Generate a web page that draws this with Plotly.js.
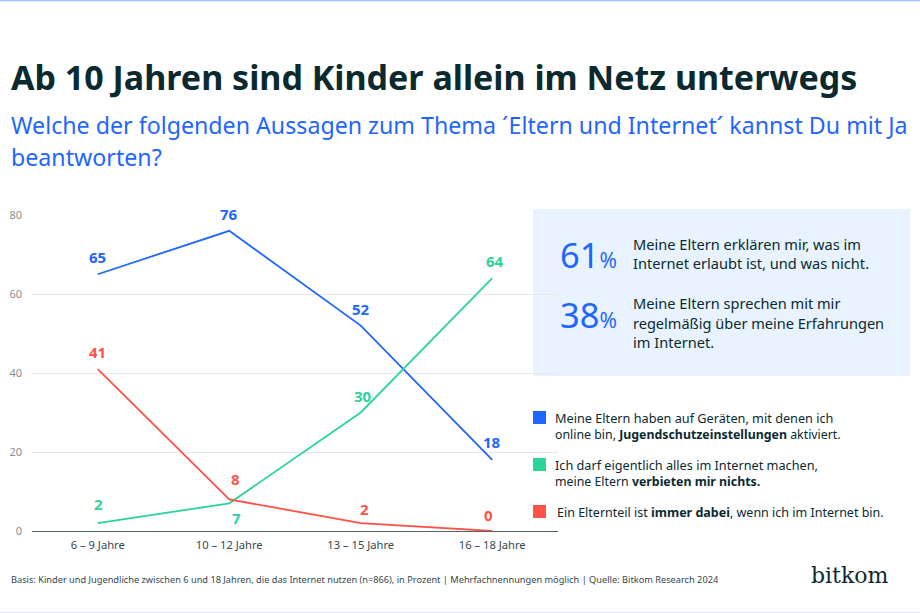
<!DOCTYPE html>
<html><head><meta charset="utf-8">
<script src="https://cdn.plot.ly/plotly-3.0.1.min.js"></script>
<style>html,body{margin:0;padding:0;background:#fff}#c{width:920px;height:613px}</style></head>
<body><div id="c"></div>
<script>
const categories = ['6 – 9 Jahre','10 – 12 Jahre','13 – 15 Jahre','16 – 18 Jahre'];
const schutz = [65,76,52,18];
const verbieten = [2,7,30,64];
const dabei = [41,8,2,0];
const yTicks = [0,20,40,60,80];
const schutzShift = [[0,17],[0,17],[0,17],[0,18]];
const verbietenShift = [[1,19],[7,-15],[2,17],[3,17]];
const dabeiShift = [[0,17],[6,20],[4,14],[-4,16]];

const BLUE='#1f66ff', GREEN='#2bd49b', RED='#ff5247', DARK='#0b2a30', FONT='"Noto Sans", sans-serif';
const L=32,R=558,T=215,B=531,W=920,H=613;
const px=x=>(x-L)/(R-L), py=y=>(B-y)/(B-T);

function tr(name,y,color){return {type:'scatter',mode:'lines',name,x:categories,y,
  line:{color,width:1.8},cliponaxis:false,hoverinfo:'skip'};}
const data=[tr('Jugendschutzeinstellungen',schutz,BLUE),
 tr('verbieten mir nichts',verbieten,GREEN),
 tr('immer dabei',dabei,RED)];
function valueLabels(y,color,shift){return y.map((v,i)=>({xref:'x',yref:'y',x:categories[i],y:v,text:String(v),showarrow:false,
  xanchor:'center',yanchor:'middle',xshift:shift[i][0],yshift:shift[i][1],borderpad:0,
  font:{family:FONT,size:15,color,weight:700}}));}

function rect(x0,y0,x1,y1,fill,layer){return {type:'rect',xref:'paper',yref:'paper',x0:px(x0),x1:px(x1),y0:py(y0),y1:py(y1),fillcolor:fill,line:{width:0},layer:layer||'above'};}
const shapes=[
 rect(526,205,558,525,'#ffffff','between'),
 rect(533,209,910,376,'#e8f3ff','between'),
 rect(533,411,546,424,BLUE),rect(533,458,546,471,GREEN),rect(533,505,546,518,RED),
 rect(0,0,920,1.2,'#a3c2ff'),rect(0,612,920,613,'#dbe7ff')
];
function t(x,y,text,size,color,extra){return Object.assign({xref:'paper',yref:'paper',x:px(x),y:py(y),text,showarrow:false,xanchor:'left',yanchor:'middle',align:'left',borderpad:0,
 font:{family:FONT,size,color:color||DARK}},extra||{});}
const annotations=[
 ...valueLabels(schutz,BLUE,schutzShift),
 ...valueLabels(verbieten,GREEN,verbietenShift),
 ...valueLabels(dabei,RED,dabeiShift),
 t(10,125,'Welche der folgenden Aussagen zum Thema ´Eltern und Internet´ kannst Du mit Ja',23.2,BLUE),
 t(10,157,'beantworten?',23.2,BLUE),
 t(559,254,'61<span style="font-size:21px">%</span>',34.5,BLUE),
 t(559,314,'38<span style="font-size:21px">%</span>',34.5,BLUE),
 t(632,244,'Meine Eltern erklären mir, was im',14.6),
 t(632,263,'Internet erlaubt ist, und was nicht.',14.6),
 t(632,303,'Meine Eltern sprechen mit mir',14.6),
 t(632,323,'regelmäßig über meine Erfahrungen',14.55),
 t(632,342,'im Internet.',14.6),
 t(554,418,'Meine Eltern haben auf Geräten, mit denen ich',12.7),
 t(554,434,'online bin, <b>Jugendschutzeinstellungen</b> aktiviert.',12.35),
 t(554,465,'Ich darf eigentlich alles im Internet machen,',12.7),
 t(554,481,'meine Eltern <b>verbieten mir nichts.</b>',12.35),
 t(556,512,'Ein Elternteil ist <b>immer dabei</b>, wenn ich im Internet bin.',12.5),
 t(10,579,'Basis: Kinder und Jugendliche zwischen 6 und 18 Jahren, die das Internet nutzen (n=866), in Prozent | Mehrfachnennungen möglich | Quelle: Bitkom Research 2024',9.22,'#33474d'),
 t(810,575,'bitkom',22,DARK,{font:{family:'"DejaVu Serif", serif',size:22,color:DARK}})
];
const layout={width:W,height:H,margin:{l:L,r:W-R,t:T,b:H-B,pad:0},showlegend:false,paper_bgcolor:'#fff',plot_bgcolor:'#fff',
 title:{text:'<b>Ab 10 Jahren sind Kinder allein im Netz unterwegs</b>',x:11/W,xanchor:'left',xref:'container',y:1-78/H,yanchor:'middle',
  font:{family:FONT,size:34,color:DARK}},
 xaxis:{type:'category',range:[-0.5,3.5],showgrid:false,zeroline:false,showline:true,linecolor:'#55666b',linewidth:1,ticks:'',
  tickfont:{family:FONT,size:11.2,color:'#33474d'},ticklabelstandoff:4},
 yaxis:{range:[0,80],tickvals:yTicks,showgrid:true,gridcolor:'#e8e8e8',gridwidth:1,zeroline:false,showline:false,ticks:'',
  tickfont:{family:FONT,size:11,color:'#8a8f91'},ticklabelstandoff:9},
 shapes,annotations};
Plotly.newPlot('c',data,layout,{displayModeBar:false,staticPlot:true});
</script></body></html>
